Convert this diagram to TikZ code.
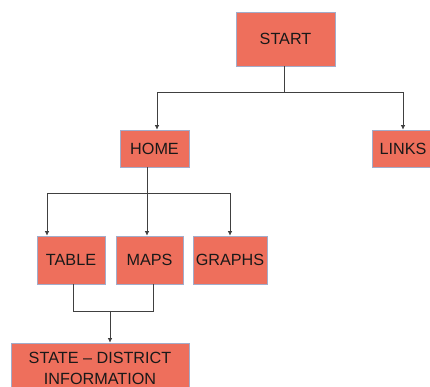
\documentclass[tikz,border=0pt]{standalone}
\usepackage{fontspec}
\setmainfont{Liberation Sans}
\usetikzlibrary{arrows.meta}
\definecolor{boxfill}{HTML}{EE6F5C}
\definecolor{boxline}{HTML}{A2ACCA}
\definecolor{conn}{HTML}{404040}
\begin{document}
\begin{tikzpicture}[x=1pt,y=1pt,
  box/.style={draw=boxline,line width=0.6pt,fill=boxfill,inner sep=0pt,
    font=\fontsize{16.2}{21}\selectfont,text=black!90,align=center},
  conline/.style={draw=conn,line width=0.8pt},
  arr/.style={conline,-{Latex[length=4.5pt,width=4.5pt]}}]
\useasboundingbox (0,0) rectangle (430,387);
\node[box,minimum width=99pt,minimum height=54pt] (start) at (285.5,348) {START};
\node[box,minimum width=69pt,minimum height=37pt] (home) at (154.5,238.5) {HOME};
\node[box,minimum width=62pt,minimum height=37pt] (links) at (403,238.5) {LINKS};
\node[box,minimum width=68pt,minimum height=48pt] (table) at (71,127) {TABLE};
\node[box,minimum width=67pt,minimum height=48pt] (maps) at (149.5,127) {MAPS};
\node[box,minimum width=74pt,minimum height=48pt] (graphs) at (230,127) {GRAPHS};
\node[box,minimum width=178pt,minimum height=50pt] (state) at (100,19) {STATE -- DISTRICT\\INFORMATION};
\coordinate (jA) at (284,295);
\coordinate (jB) at (147,194);
\coordinate (jC) at (110,76);
\draw[conline] (start.south -| jA) -- (jA);
\draw[arr] (jA) -| ([xshift=2.5pt]home.north);
\draw[arr] (jA) -| (links.north);
\draw[conline] (home.south -| jB) -- (jB);
\draw[arr] (jB) -| ([xshift=-24pt]table.north);
\draw[arr] (jB) -- (maps.north -| jB);
\draw[arr] (jB) -| (graphs.north);
\draw[conline] ([xshift=2pt]table.south) |- (jC);
\draw[conline] ([xshift=3.5pt]maps.south) |- (jC);
\draw[arr] (jC) -- (state.north -| jC);
\end{tikzpicture}
\end{document}
